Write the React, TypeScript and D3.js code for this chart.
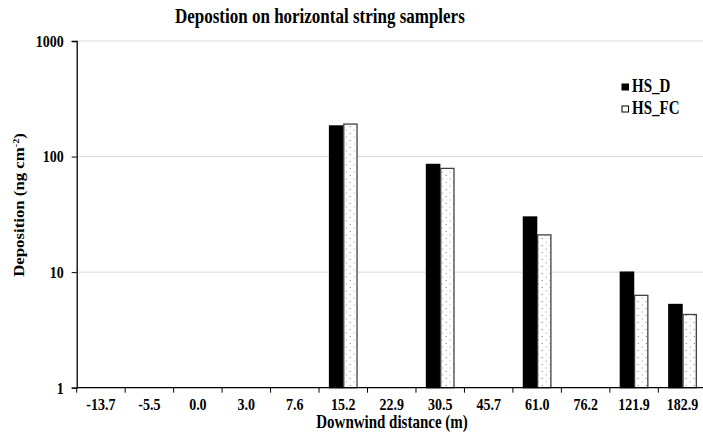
import React, { useEffect, useRef } from "react";
import * as d3 from "d3";

const categories = ["-13.7", "-5.5", "0.0", "3.0", "7.6", "15.2", "22.9", "30.5", "45.7", "61.0", "76.2", "121.9", "182.9"];
const seriesNames = ["HS_D", "HS_FC"];
const hsD = [null, null, null, null, null, 184, null, 85.5, null, 30, null, 10, 5.25];
const hsFC = [null, null, null, null, null, 191, null, 79, null, 21, null, 6.3, 4.3];
const yTicks = [1, 10, 100, 1000];

// the source picture is a little taller than wide in its glyphs
const stretch = 1.2;

const App = () => {
  const ref = useRef<SVGSVGElement>(null);

  useEffect(() => {
    const margin = { top: 41, left: 76.7 };
    const w = 630.1, h = 346.7;

    const root = d3.select(ref.current);
    root.selectAll("*").remove();

    const defs = root.append("defs");
    const pat = defs
      .append("pattern")
      .attr("id", "dots")
      .attr("patternUnits", "userSpaceOnUse")
      .attr("width", 8)
      .attr("height", 7);
    pat.append("rect").attr("width", 8).attr("height", 7).attr("fill", "#fff");
    pat.append("rect").attr("x", 1).attr("y", 1).attr("width", 1).attr("height", 1).attr("fill", "#777");
    pat.append("rect").attr("x", 5).attr("y", 4.5).attr("width", 1).attr("height", 1).attr("fill", "#999");

    const svg = root.append("g").attr("transform", `translate(${margin.left},${margin.top})`);

    const x = d3.scaleBand().domain(categories).range([0, w]).paddingInner(0).paddingOuter(0);
    const x1 = d3.scaleBand().domain(seriesNames).range([0, x.bandwidth()]).paddingOuter(0.7).paddingInner(0);
    const y = d3.scaleLog().domain([1, 1000]).range([h, 0]);

    // gridlines
    svg
      .selectAll("line.grid")
      .data(yTicks.slice(1))
      .join("line")
      .attr("class", "grid")
      .attr("x1", 0)
      .attr("x2", w)
      .attr("y1", (d) => y(d))
      .attr("y2", (d) => y(d))
      .attr("stroke", "#d9d9d9")
      .attr("stroke-width", 1);

    const font = "'Liberation Serif', 'Times New Roman', serif";

    // bars
    const series = [
      { name: "HS_D", values: hsD, fill: "#000", stroke: "#000" },
      { name: "HS_FC", values: hsFC, fill: "url(#dots)", stroke: "#404040" },
    ];
    series.forEach((s) => {
      svg
        .append("g")
        .selectAll("rect")
        .data(s.values.map((v, i) => ({ v, c: categories[i] })).filter((d) => d.v != null))
        .join("rect")
        .attr("x", (d) => x(d.c)! + x1(s.name)! + 0.5)
        .attr("y", (d) => y(d.v as number))
        .attr("width", x1.bandwidth() - 1)
        .attr("height", (d) => h - y(d.v as number))
        .attr("fill", s.fill)
        .attr("stroke", s.stroke)
        .attr("stroke-width", 1.3);
    });

    // y axis
    const yAxis = svg
      .append("g")
      .call(d3.axisLeft(y).tickValues(yTicks).tickFormat(d3.format("d")).tickSize(5).tickPadding(8));
    yAxis.select(".domain").attr("stroke", "#000").attr("stroke-width", 1.3);
    yAxis.selectAll("line").attr("stroke", "#000");
    yAxis
      .selectAll("text")
      .attr("font-family", font)
      .attr("font-weight", "bold")
      .attr("font-size", 14)
      .attr("fill", "#000")
      .attr("transform", `scale(1,${stretch})`);

    // x axis
    const xAxis = svg.append("g").attr("transform", `translate(0,${h})`);
    xAxis
      .append("line")
      .attr("x1", 0)
      .attr("x2", w)
      .attr("stroke", "#000")
      .attr("stroke-width", 1.3);
    xAxis
      .selectAll("line.tk")
      .data(categories)
      .join("line")
      .attr("class", "tk")
      .attr("x1", (d) => x(d)!)
      .attr("x2", (d) => x(d)!)
      .attr("y1", 0)
      .attr("y2", 5)
      .attr("stroke", "#000");
    xAxis
      .selectAll("text")
      .data(categories)
      .join("text")
      .attr("transform", (d) => `translate(${x(d)! + x.bandwidth() / 2},22) scale(1,${stretch})`)
      .attr("text-anchor", "middle")
      .attr("font-family", font)
      .attr("font-weight", "bold")
      .attr("font-size", 14)
      .text((d) => d);

    // axis titles
    root
      .append("text")
      .attr("transform", `translate(392,428) scale(1,${stretch})`)
      .attr("text-anchor", "middle")
      .attr("font-family", font)
      .attr("font-weight", "bold")
      .attr("font-size", 15)
      .text("Downwind distance (m)");

    const yt = root
      .append("text")
      .attr("transform", `translate(24,205) rotate(-90) scale(${stretch},1)`)
      .attr("text-anchor", "middle")
      .attr("font-family", font)
      .attr("font-weight", "bold")
      .attr("font-size", 14);
    yt.append("tspan").text("Deposition (ng cm");
    yt.append("tspan").attr("font-size", 8.5).attr("dy", -5.5).text("-2");
    yt.append("tspan").attr("dy", 5.5).text(")");

    // title
    root
      .append("text")
      .attr("transform", `translate(175,23) scale(1,${stretch})`)
      .attr("text-anchor", "start")
      .attr("font-family", font)
      .attr("font-weight", "bold")
      .attr("font-size", 17)
      .text("Depostion on horizontal string samplers");

    // legend
    const legend = root.append("g").attr("transform", "translate(622,84)");
    series.forEach((s, i) => {
      const g = legend.append("g").attr("transform", `translate(0,${i * 22})`);
      g.append("rect")
        .attr("width", 6.5)
        .attr("height", 6)
        .attr("fill", i === 0 ? "#000" : "#fff")
        .attr("stroke", "#000")
        .attr("stroke-width", 1);
      g.append("text")
        .attr("transform", `translate(10,8) scale(1,${stretch})`)
        .attr("font-family", font)
        .attr("font-weight", "bold")
        .attr("font-size", 15)
        .text(s.name);
    });
  }, []);

  return (
    <svg
      ref={ref}
      width={703}
      height={434}
      style={{ position: "absolute", left: 0, top: 0, background: "#fff" }}
    ></svg>
  );
};

export default App;
